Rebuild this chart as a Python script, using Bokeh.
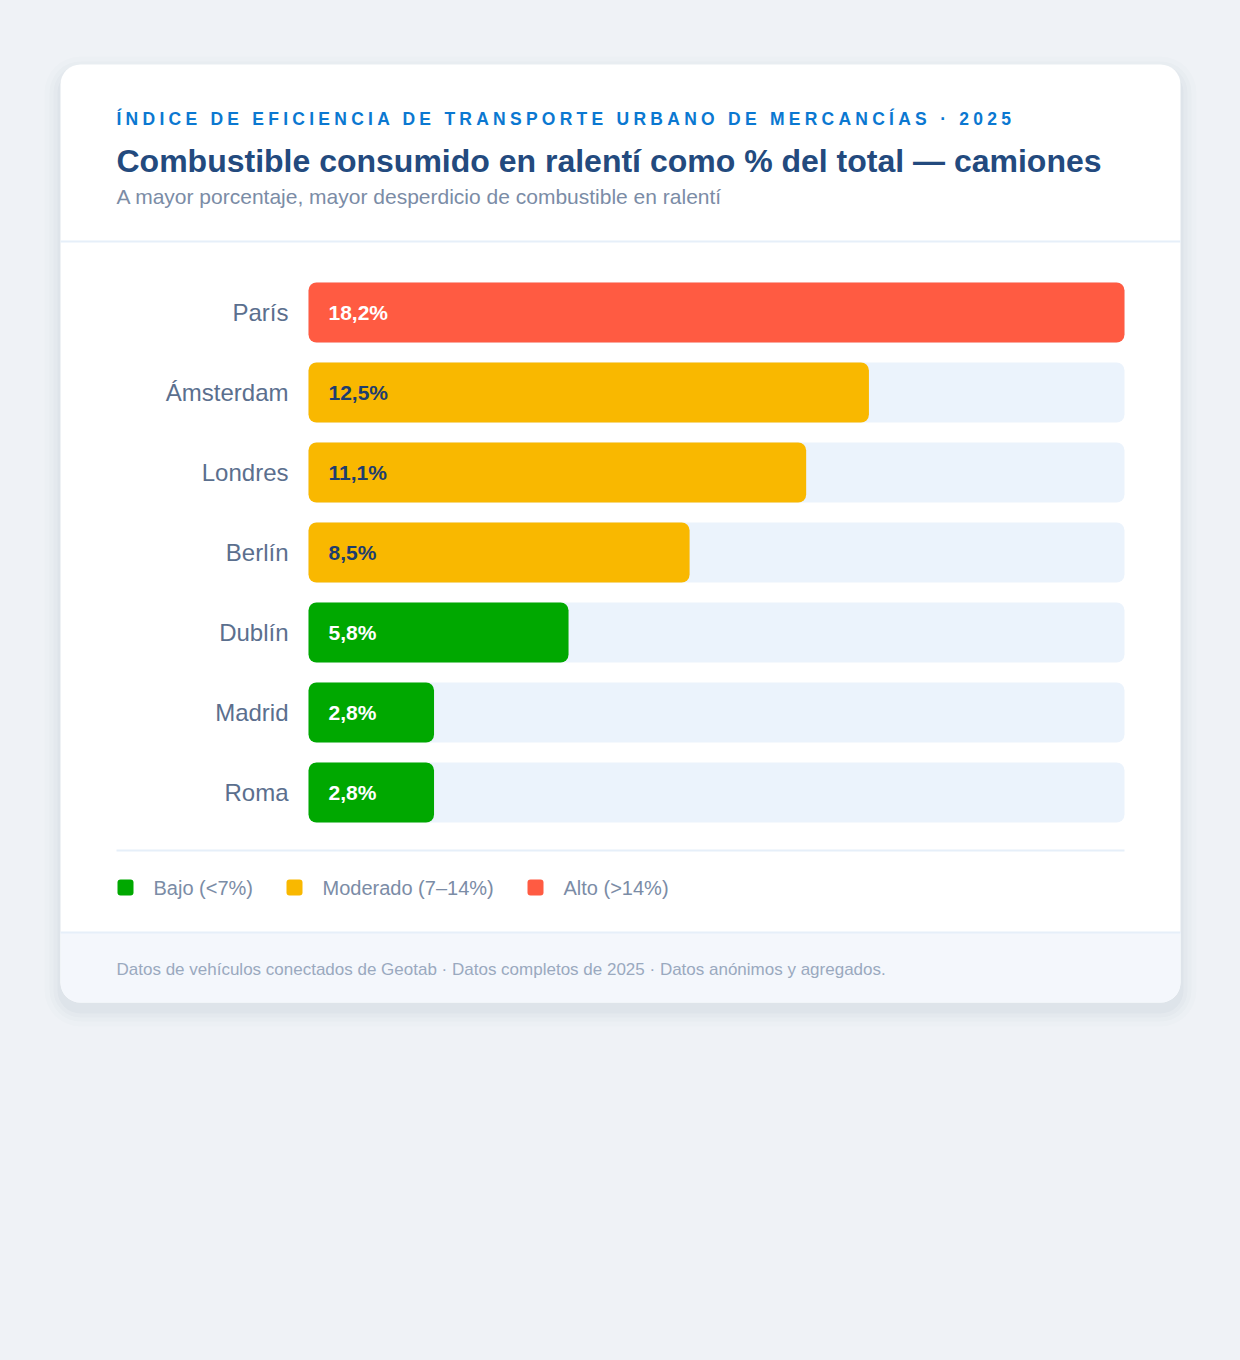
from bokeh.core.properties import value
from bokeh.embed import file_html
from bokeh.layouts import column
from bokeh.models import ColumnDataSource, InlineStyleSheet, Range1d
from bokeh.plotting import figure
from bokeh.resources import INLINE

# Data
cities = ["París", "Ámsterdam", "Londres", "Berlín", "Dublín", "Madrid", "Roma"]
idle_pct = [18.2, 12.5, 11.1, 8.5, 5.8, 2.8, 2.8]

legend_labels = ["Bajo (<7%)", "Moderado (7–14%)", "Alto (>14%)"]
legend_colors = ["#00a800", "#f9b800", "#ff5b42"]

kicker = "ÍNDICE DE EFICIENCIA DE TRANSPORTE URBANO DE MERCANCÍAS · 2025"
title = "Combustible consumido en ralentí como % del total — camiones"
subtitle = "A mayor porcentaje, mayor desperdicio de combustible en ralentí"
footer = "Datos de vehículos conectados de Geotab · Datos completos de 2025 · Datos anónimos y agregados."

FONT = value("Liberation Sans")
BG = "#eff2f6"
W, H = 1240, 1360
HEAD_H = 140  # transparent strip laid over the page for the letter-spaced kicker


def level_color(v):
    if v < 7:
        return legend_colors[0]
    if v <= 14:
        return legend_colors[1]
    return legend_colors[2]


def page_figure(height, fill):
    # ranges are page pixels, y grows downwards
    f = figure(width=W, height=height, output_backend="svg", toolbar_location=None,
               x_range=Range1d(0, W), y_range=Range1d(height, 0),
               x_axis_type=None, y_axis_type=None, min_border=0,
               background_fill_color=fill, border_fill_color=fill, outline_line_color=None)
    f.grid.visible = False
    return f


p = page_figure(H, BG)
p.styles = {"background-color": BG}

# card shadow + card
for grow, a in [(16, 0.010), (11, 0.015), (7, 0.02), (3, 0.028)]:
    p.quad(left=60 - grow, right=1180 + grow, top=64 - grow + 8, bottom=1002 + grow + 8,
           fill_color="#1e3a5f", fill_alpha=a, line_color=None, border_radius=20 + grow)
p.quad(left=60, right=1180, top=64, bottom=1002, fill_color="white",
       line_color=None, border_radius=20)
p.quad(left=60, right=1180, top=932, bottom=1002, fill_color="#f4f7fc",
       line_color=None, border_radius=(0, 0, 20, 20))
p.segment(x0=[60, 116, 60], x1=[1180, 1124, 1180], y0=[241, 850, 932], y1=[241, 850, 932],
          line_color="#e6eff9", line_width=2)

p.text(x=[116], y=[160], text=[title], text_font=FONT, text_font_size="32px",
       text_font_style="bold", text_color="#234a7e", text_baseline="middle")
p.text(x=[116], y=[196], text=[subtitle], text_font=FONT, text_font_size="21px",
       text_color="#7b8ca6", text_baseline="middle")

# value scale for the bars: 0 at the track start, max at the track end
track_left, track_right = 308, 1124
vmax = max(idle_pct)
s = vmax / (track_right - track_left)
p.extra_x_ranges = {"pct": Range1d(-track_left * s, (W - track_left) * s)}
# row scale: first row centred at 312, 80px pitch (rows are -index)
row0, pitch = 312, 80
p.extra_y_ranges = {"row": Range1d(-(H - row0) / pitch, row0 / pitch)}

rows = [-i for i in range(len(cities))]
src = ColumnDataSource(data=dict(
    row=rows, city=cities, v=idle_pct, vmax=[vmax] * len(cities), zero=[0] * len(cities),
    color=[level_color(v) for v in idle_pct],
    label=[f"{v:.1f}".replace(".", ",") + "%" for v in idle_pct],
    label_color=["#1e3d6e" if level_color(v) == legend_colors[1] else "white" for v in idle_pct],
))
p.hbar(y="row", left="zero", right="vmax", height=0.75, source=src, fill_color="#ebf3fc",
       line_color=None, border_radius=8, x_range_name="pct", y_range_name="row")
p.hbar(y="row", left="zero", right="v", height=0.75, source=src, fill_color="color",
       line_color=None, border_radius=8, x_range_name="pct", y_range_name="row")
p.text(x="zero", y="row", text="city", source=src, x_offset=-20, text_align="right",
       text_baseline="middle", text_font=FONT, text_font_size="24px", text_color="#5b6f8e",
       x_range_name="pct", y_range_name="row")
p.text(x="zero", y="row", text="label", source=src, x_offset=20, text_baseline="middle",
       text_font=FONT, text_font_size="21px", text_font_style="bold", text_color="label_color",
       x_range_name="pct", y_range_name="row")

# legend
legend_x = [117, 286, 527]
p.quad(left=legend_x, right=[x + 16 for x in legend_x], top=879, bottom=895,
       fill_color=legend_colors, line_color=None, border_radius=3)
p.text(x=[x + 36 for x in legend_x], y=887, text=legend_labels, text_font=FONT,
       text_font_size="20px", text_color="#7b8ca6", text_baseline="middle")

# footer
p.text(x=[116], y=[969], text=[footer], text_font=FONT, text_font_size="17px",
       text_color="#9aa9bf", text_baseline="middle")

# kicker on a transparent strip over the top of the page (letter spacing via CSS)
head = page_figure(HEAD_H, None)
head.border_fill_alpha = 0
head.background_fill_alpha = 0
head.text(x=[116], y=[118], text=[kicker], text_font=FONT, text_font_size="17.5px",
          text_font_style="bold", text_color="#0b78d1", text_baseline="middle")
head.stylesheets = [InlineStyleSheet(css=":host { letter-spacing: 4.25px; }")]
head.styles = {"position": "absolute", "top": "0px", "left": "0px", "z-index": "2"}

page = column(p, head, spacing=0)
open("out.html", "w").write(file_html(page, INLINE))
